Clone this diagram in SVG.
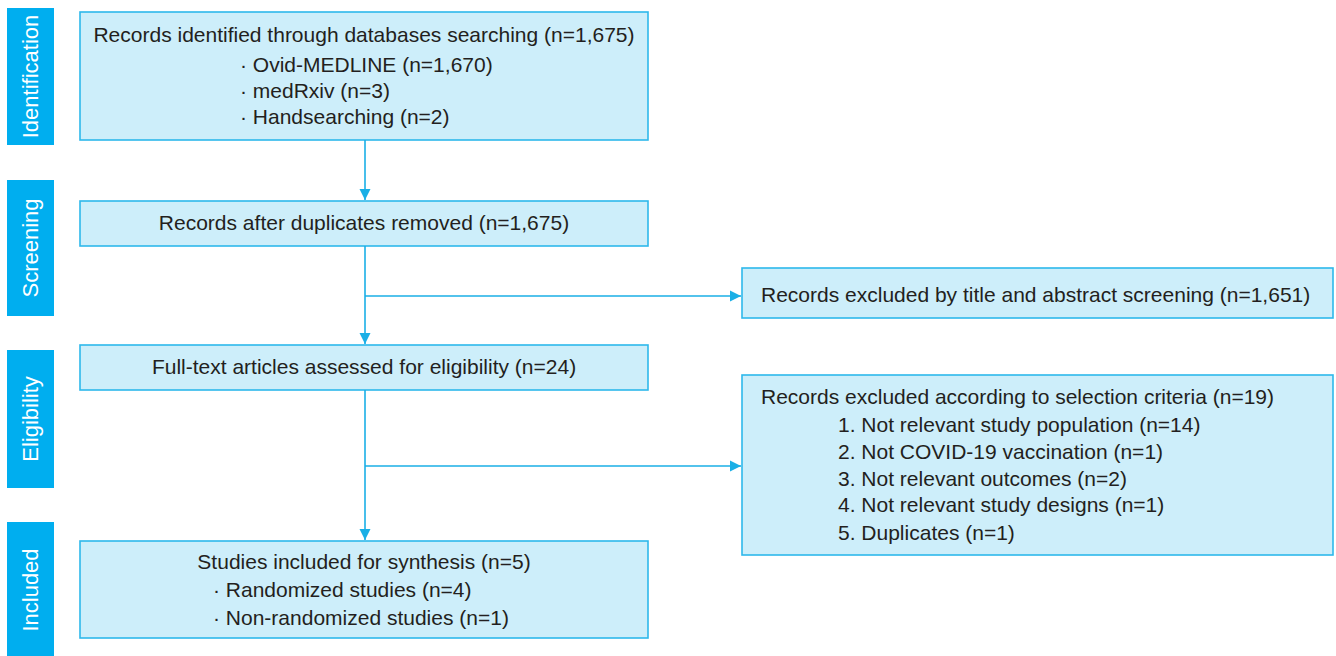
<svg xmlns="http://www.w3.org/2000/svg" width="1336" height="656" viewBox="0 0 1336 656">
<style>
.bar{fill:#00AEEF}
.bt{fill:#ffffff;font-family:"Liberation Sans",Arial,sans-serif;font-size:22px;text-anchor:middle}
.box{fill:#CDEEFA;stroke:#2DB8EC;stroke-width:1.6}
.t{fill:#231F20;font-family:"Liberation Sans",Arial,sans-serif;font-size:21px}
.c{text-anchor:middle}
.ln{fill:none;stroke:#1AAFE6;stroke-width:1.6}
</style>
<defs>
<marker id="ah" viewBox="0 0 10 10" refX="10" refY="5" markerWidth="7" markerHeight="7" markerUnits="strokeWidth" orient="auto">
<path d="M0,0 L10,5 L0,10 Z" fill="#1AAFE6"/>
</marker>
</defs>
<rect width="1336" height="656" fill="#ffffff"/>
<g id="stage-identification"><rect class="bar" x="7" y="8" width="47" height="137"/><text class="bt" transform="translate(38,76.5) rotate(-90)">Identification</text></g>
<g id="stage-screening"><rect class="bar" x="7" y="180" width="47" height="136"/><text class="bt" transform="translate(38,248) rotate(-90)">Screening</text></g>
<g id="stage-eligibility"><rect class="bar" x="7" y="350" width="47" height="138"/><text class="bt" transform="translate(38,419) rotate(-90)">Eligibility</text></g>
<g id="stage-included"><rect class="bar" x="7" y="522" width="47" height="140"/><text class="bt" transform="translate(38,590) rotate(-90)">Included</text></g>
<g id="identified"><rect class="box" x="80" y="12" width="568" height="128"/>
<text class="t c" x="364" y="42">Records identified through databases searching (n=1,675)</text>
<text class="t" x="240" y="72">· Ovid-MEDLINE (n=1,670)</text>
<text class="t" x="240" y="98">· medRxiv (n=3)</text>
<text class="t" x="240" y="124">· Handsearching (n=2)</text></g>
<g id="after-duplicates"><rect class="box" x="80" y="201" width="568" height="45"/>
<text class="t c" x="364" y="230">Records after duplicates removed (n=1,675)</text></g>
<g id="fulltext"><rect class="box" x="80" y="345" width="568" height="45"/>
<text class="t c" x="364" y="374">Full-text articles assessed for eligibility (n=24)</text></g>
<g id="included"><rect class="box" x="80" y="541" width="568" height="97"/>
<text class="t c" x="364" y="569">Studies included for synthesis (n=5)</text>
<text class="t" x="213" y="597">· Randomized studies (n=4)</text>
<text class="t" x="213" y="625">· Non-randomized studies (n=1)</text></g>
<g id="excluded-title"><rect class="box" x="742" y="268" width="591" height="50"/>
<text class="t" x="761" y="302">Records excluded by title and abstract screening (n=1,651)</text></g>
<g id="excluded-criteria"><rect class="box" x="742" y="375" width="591" height="180"/>
<text class="t" x="761" y="404">Records excluded according to selection criteria (n=19)</text>
<text class="t" x="838" y="432">1. Not relevant study population (n=14)</text>
<text class="t" x="838" y="459">2. Not COVID-19 vaccination (n=1)</text>
<text class="t" x="838" y="486">3. Not relevant outcomes (n=2)</text>
<text class="t" x="838" y="512">4. Not relevant study designs (n=1)</text>
<text class="t" x="838" y="540">5. Duplicates (n=1)</text></g>
<g id="connectors">
<path class="ln" d="M365,140 V200" marker-end="url(#ah)"/>
<path class="ln" d="M365,246 V344" marker-end="url(#ah)"/>
<path class="ln" d="M365,296 H741" marker-end="url(#ah)"/>
<path class="ln" d="M365,390 V540" marker-end="url(#ah)"/>
<path class="ln" d="M365,466 H741" marker-end="url(#ah)"/>
</g>
</svg>
